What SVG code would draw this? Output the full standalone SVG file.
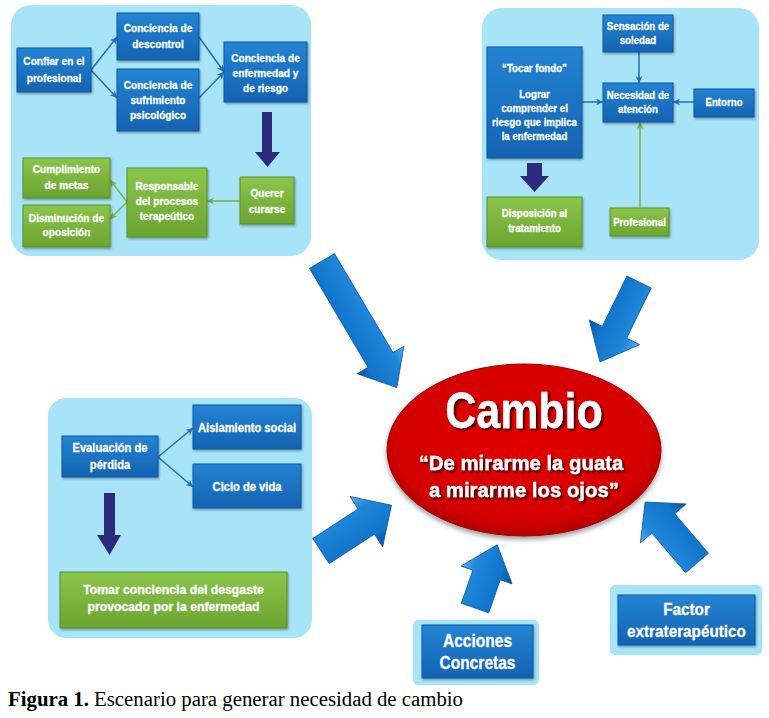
<svg xmlns="http://www.w3.org/2000/svg" width="769" height="718" viewBox="0 0 769 718">
<defs>
<style>
.panel{fill:#a8e4f8}
.bn{fill:url(#gBlue);stroke:#0b5aa6;stroke-width:1;filter:url(#sh)}
.gn{fill:url(#gGreen);stroke:#5a9127;stroke-width:1;filter:url(#sh)}
.t{fill:#fff;stroke:#fff;stroke-width:0.3;font-family:"Liberation Sans",Arial,sans-serif;font-weight:bold;text-anchor:middle}
.cb{stroke:#1d6fbd;stroke-width:1.5;fill:none;marker-end:url(#mb)}
.cg{stroke:#78b43c;stroke-width:1.5;fill:none;marker-end:url(#mg)}
.dark{fill:#2b2a7d}
.big{fill:url(#gArrow);stroke:#0a5aa8;stroke-width:0.8}
</style>
<linearGradient id="gBlue" x1="0" y1="0" x2="0" y2="1"><stop offset="0" stop-color="#2384d3"/><stop offset="1" stop-color="#1463b2"/></linearGradient>
<linearGradient id="gGreen" x1="0" y1="0" x2="0" y2="1"><stop offset="0" stop-color="#8cc54b"/><stop offset="1" stop-color="#6aa530"/></linearGradient>
<linearGradient id="gArrow" x1="0" y1="0" x2="0" y2="1"><stop offset="0" stop-color="#5fb2ef"/><stop offset="0.25" stop-color="#1f86d8"/><stop offset="0.75" stop-color="#1175cb"/><stop offset="1" stop-color="#0a4f9a"/></linearGradient>
<radialGradient id="gRed" cx="0.5" cy="0.45" r="0.55"><stop offset="0" stop-color="#e20000"/><stop offset="0.85" stop-color="#d40000"/><stop offset="1" stop-color="#b00000"/></radialGradient>
<filter id="sh" x="-10%" y="-10%" width="130%" height="130%"><feDropShadow dx="1" dy="1.5" stdDeviation="1" flood-opacity="0.35"/></filter>
<filter id="tsh" x="-10%" y="-20%" width="130%" height="150%"><feDropShadow dx="2" dy="2" stdDeviation="1" flood-color="#000" flood-opacity="0.75"/></filter>
<filter id="esh" x="-10%" y="-10%" width="130%" height="130%"><feDropShadow dx="0" dy="3" stdDeviation="2.5" flood-opacity="0.4"/></filter>
<marker id="mb" markerWidth="8" markerHeight="8" refX="7" refY="3.5" orient="auto" markerUnits="userSpaceOnUse"><path d="M0,0 L7,3.5 L0,7 L2,3.5 Z" fill="#1d6fbd"/></marker>
<marker id="mg" markerWidth="8" markerHeight="8" refX="7" refY="3.5" orient="auto" markerUnits="userSpaceOnUse"><path d="M0,0 L7,3.5 L0,7 L2,3.5 Z" fill="#78b43c"/></marker>
</defs>
<rect width="769" height="718" fill="#fff"/>

<!-- panels -->
<rect class="panel" x="11" y="5" width="300" height="251" rx="20"/>
<rect class="panel" x="482" y="8" width="277" height="252" rx="20"/>
<rect class="panel" x="48" y="398" width="264" height="240" rx="18"/>
<rect class="panel" x="413" y="620" width="126" height="65" rx="5"/>
<rect class="panel" x="610" y="585" width="152" height="70" rx="5"/>

<!-- connectors -->
<g id="connectors">
<path class="cb" d="M91,70 L117,37"/>
<path class="cb" d="M91,70 L117,98"/>
<path class="cb" d="M199,37 L224,72"/>
<path class="cb" d="M199,98 L224,72"/>
<path class="cg" d="M240,201 L207,201"/>
<path class="cg" d="M127,202 L110,180"/>
<path class="cg" d="M127,202 L110,219"/>
<path class="cb" d="M582,102 L603,102"/>
<path class="cb" d="M639,52 L639,83"/>
<path class="cb" d="M694,102 L673,102"/>
<path class="cg" d="M640,208 L640,122"/>
<path class="cb" d="M158,457 L193,428"/>
<path class="cb" d="M158,457 L193,487"/>
<path class="dark" d="M262,112 H272 V152 H280 L267.5,167 L255,152 H262 Z"/>
<path class="dark" d="M527,163 H542 V176 H549 L534.5,192 L520,176 H527 Z"/>
<path class="dark" d="M104,493 H115 V535 H121 L109.5,555 L97,535 H104 Z"/>
<path class="big" transform="translate(322,261) rotate(59.4)" d="M0,-14.5 L115,-14.5 L115,-27 L147,0 L115,27 L115,14.5 L0,14.5 Z"/>
<path class="big" transform="translate(639,282) rotate(116)" d="M0,-13.5 L56,-13.5 L56,-28 L89,0 L56,28 L56,13.5 L0,13.5 Z"/>
<path class="big" transform="translate(321,551) rotate(-33)" d="M0,-15 L54,-15 L54,-30 L84,0 L54,30 L54,15 L0,15 Z"/>
<path class="big" transform="translate(475,608) rotate(-70.7)" d="M0,-14.5 L35,-14.5 L35,-27 L67,0 L35,27 L35,14.5 L0,14.5 Z"/>
<path class="big" transform="translate(697,563) rotate(-130.4)" d="M0,-15 L52,-15 L52,-30 L80,0 L52,30 L52,15 L0,15 Z"/>
</g>

<!-- panel 1 nodes -->
<g id="confiar"><rect class="bn" x="17" y="48" width="74" height="44"/>
<text class="t" font-size="11.5" transform="translate(54 0) scale(.88 1)"><tspan x="0" y="65">Confiar en el</tspan><tspan x="0" y="82">profesional</tspan></text></g>
<g id="descontrol"><rect class="bn" x="117" y="13" width="82" height="47"/>
<text class="t" font-size="11.5" transform="translate(158 0) scale(.88 1)"><tspan x="0" y="32">Conciencia de</tspan><tspan x="0" y="48">descontrol</tspan></text></g>
<g id="sufrimiento"><rect class="bn" x="117" y="69" width="82" height="62"/>
<text class="t" font-size="11.5" transform="translate(158 0) scale(.88 1)"><tspan x="0" y="89">Conciencia de</tspan><tspan x="0" y="104">sufrimiento</tspan><tspan x="0" y="119">psicológico</tspan></text></g>
<g id="enfermedad"><rect class="bn" x="224" y="42" width="83" height="60"/>
<text class="t" font-size="11.5" transform="translate(265.5 0) scale(.88 1)"><tspan x="0" y="62">Conciencia de</tspan><tspan x="0" y="77">enfermedad y</tspan><tspan x="0" y="92">de riesgo</tspan></text></g>
<g id="querer"><rect class="gn" x="240" y="177" width="54" height="47"/>
<text class="t" font-size="11.5" transform="translate(267 0) scale(.88 1)"><tspan x="0" y="197">Querer</tspan><tspan x="0" y="213">curarse</tspan></text></g>
<g id="responsable"><rect class="gn" x="127" y="168" width="80" height="69"/>
<text class="t" font-size="11.5" transform="translate(167 0) scale(.88 1)"><tspan x="0" y="190">Responsable</tspan><tspan x="0" y="205">del procesos</tspan><tspan x="0" y="220">terapeútico</tspan></text></g>
<g id="cumplimiento"><rect class="gn" x="23" y="158" width="87" height="40"/>
<text class="t" font-size="11.5" transform="translate(66.5 0) scale(.88 1)"><tspan x="0" y="173">Cumplimiento</tspan><tspan x="0" y="189">de metas</tspan></text></g>
<g id="disminucion"><rect class="gn" x="23" y="205" width="87" height="42"/>
<text class="t" font-size="11.5" transform="translate(66.5 0) scale(.88 1)"><tspan x="0" y="222">Disminución de</tspan><tspan x="0" y="236">oposición</tspan></text></g>

<!-- panel 2 nodes -->
<g id="soledad"><rect class="bn" x="603" y="15" width="70" height="37"/>
<text class="t" font-size="11" transform="translate(638 0) scale(.88 1)"><tspan x="0" y="30">Sensación de</tspan><tspan x="0" y="44">soledad</tspan></text></g>
<g id="tocar"><rect class="bn" x="487" y="47" width="95" height="111"/>
<text class="t" font-size="11" transform="translate(534.5 0) scale(.88 1)"><tspan x="0" y="72">“Tocar fondo”</tspan><tspan x="0" y="98">Lograr</tspan><tspan x="0" y="112">comprender el</tspan><tspan x="0" y="126">riesgo que implica</tspan><tspan x="0" y="140">la enfermedad</tspan></text></g>
<g id="necesidad"><rect class="bn" x="603" y="83" width="70" height="39"/>
<text class="t" font-size="11" transform="translate(638 0) scale(.88 1)"><tspan x="0" y="99">Necesidad de</tspan><tspan x="0" y="113">atención</tspan></text></g>
<g id="entorno"><rect class="bn" x="694" y="89" width="60" height="28"/>
<text class="t" font-size="11" transform="translate(724 0) scale(.88 1)"><tspan x="0" y="106">Entorno</tspan></text></g>
<g id="disposicion"><rect class="gn" x="487" y="197" width="95" height="50"/>
<text class="t" font-size="11" transform="translate(534.5 0) scale(.88 1)"><tspan x="0" y="217">Disposición al</tspan><tspan x="0" y="232">tratamiento</tspan></text></g>
<g id="profesional"><rect class="gn" x="610" y="208" width="59" height="28"/>
<text class="t" font-size="11" transform="translate(639.5 0) scale(.88 1)"><tspan x="0" y="226">Profesional</tspan></text></g>

<!-- panel 3 nodes -->
<g id="evaluacion"><rect class="bn" x="62" y="436" width="96" height="41"/>
<text class="t" font-size="13" transform="translate(110 0) scale(.86 1)"><tspan x="0" y="452">Evaluación de</tspan><tspan x="0" y="469">pérdida</tspan></text></g>
<g id="aislamiento"><rect class="bn" x="193" y="405" width="108" height="44"/>
<text class="t" font-size="13" transform="translate(247 0) scale(.86 1)"><tspan x="0" y="432">Aislamiento social</tspan></text></g>
<g id="ciclo"><rect class="bn" x="193" y="464" width="108" height="44"/>
<text class="t" font-size="13" transform="translate(247 0) scale(.86 1)"><tspan x="0" y="491">Ciclo de vida</tspan></text></g>
<g id="tomar"><rect class="gn" x="60" y="572" width="227" height="56"/>
<text class="t" font-size="12.5" transform="translate(173.5 0) scale(.98 1)"><tspan x="0" y="594">Tomar conciencia del desgaste</tspan><tspan x="0" y="611">provocado por la enfermedad</tspan></text></g>

<!-- center -->
<g id="cambio">
<ellipse cx="524" cy="450" rx="137" ry="86" fill="url(#gRed)" stroke="#9a0000" stroke-width="1" filter="url(#esh)"/>
<g filter="url(#tsh)">
<text class="t" font-size="50" stroke-width="1" transform="translate(524 0) scale(.86 1)"><tspan x="0" y="428">Cambio</tspan></text>
<text class="t" font-size="21" stroke-width="0.6" transform="translate(521 0) scale(.97 1)"><tspan x="0" y="470">“De mirarme la guata</tspan><tspan x="3" y="497">a mirarme los ojos”</tspan></text>
</g>
</g>

<g id="acciones"><rect class="bn" x="422" y="625" width="111" height="53"/>
<text class="t" font-size="18.5" stroke-width="0.5" transform="translate(477.5 0) scale(.84 1)"><tspan x="0" y="647">Acciones</tspan><tspan x="0" y="669">Concretas</tspan></text></g>
<g id="factor"><rect class="bn" x="618" y="595" width="137" height="50"/>
<text class="t" font-size="17" stroke-width="0.5" transform="translate(686.5 0) scale(.9 1)"><tspan x="0" y="615">Factor</tspan><tspan x="0" y="637">extraterapéutico</tspan></text></g>

<text x="8" y="706" font-family="'Liberation Serif','Times New Roman',serif" font-size="20.8" fill="#000"><tspan font-weight="bold">Figura 1.</tspan> Escenario para generar necesidad de cambio</text>
</svg>
